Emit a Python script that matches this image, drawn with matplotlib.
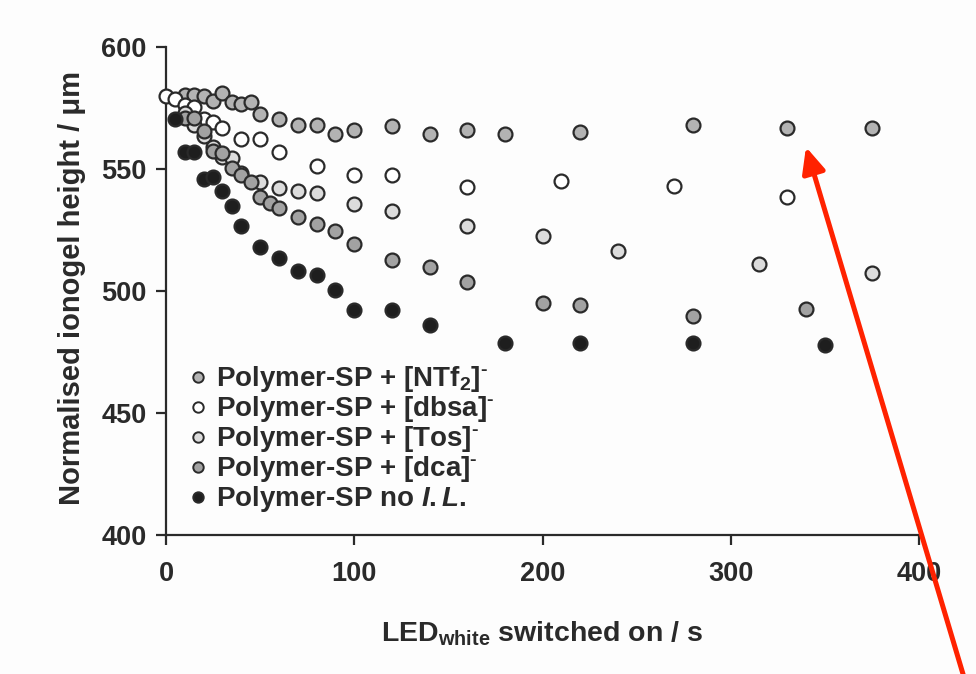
import matplotlib
matplotlib.use("Agg")
import matplotlib.pyplot as plt
from matplotlib.lines import Line2D
from matplotlib.patches import FancyArrowPatch

plt.rcParams["font.family"] = ["Liberation Sans", "DejaVu Sans"]
plt.rcParams["font.weight"] = "bold"
plt.rcParams["axes.labelweight"] = "bold"
plt.rcParams["mathtext.fontset"] = "custom"
plt.rcParams["mathtext.rm"] = "Liberation Sans:bold"
plt.rcParams["mathtext.bf"] = "Liberation Sans:bold"
plt.rcParams["mathtext.it"] = "Liberation Sans:bold:italic"
plt.rcParams["mathtext.default"] = "bf"

# data (time / s, height / um)
t_ntf2 = [10, 15, 20, 25, 30, 35, 40, 45, 50, 60, 70, 80, 90, 100, 120, 140, 160, 180, 220, 280, 330, 375]
h_ntf2 = [580.5, 580.3, 580.0, 578.0, 581.0, 577.3, 576.6, 577.3, 572.6, 570.6, 568.0, 568.0, 564.3, 565.9,
          567.5, 564.3, 566.0, 564.3, 565.0, 568.0, 567.0, 566.8]

t_dbsa = [0, 5, 10, 15, 20, 25, 30, 40, 50, 60, 80, 100, 120, 160, 210, 270, 330]
h_dbsa = [580.0, 578.8, 576.4, 575.3, 570.6, 569.3, 567.0, 562.3, 562.3, 557.0, 551.2, 547.5, 547.5,
          542.6, 545.0, 543.0, 538.5]

t_tos = [10, 15, 20, 25, 30, 35, 40, 50, 60, 70, 80, 100, 120, 160, 200, 240, 315, 375]
h_tos = [573.0, 568.0, 563.4, 559.0, 554.8, 554.5, 548.5, 544.8, 542.1, 541.1, 540.3, 535.7, 532.9,
         526.6, 522.5, 516.4, 511.0, 507.4]

t_dca = [10, 15, 20, 25, 30, 35, 40, 45, 50, 55, 60, 70, 80, 90, 100, 120, 140, 160, 200, 220, 280, 340]
h_dca = [571.0, 571.0, 565.7, 557.3, 556.6, 550.4, 547.5, 544.5, 538.5, 535.9, 533.9, 530.2, 527.5, 524.7,
         519.2, 512.7, 510.0, 503.7, 495.0, 494.3, 489.8, 492.6]

t_none = [5, 10, 15, 20, 25, 30, 35, 40, 50, 60, 70, 80, 90, 100, 120, 140, 180, 220, 280, 350]
h_none = [570.6, 557.0, 557.0, 545.8, 546.8, 541.0, 534.8, 526.5, 518.2, 513.4, 508.0, 506.4, 500.5,
          492.4, 492.4, 486.0, 478.7, 478.7, 478.7, 478.0]

labels = [r"Polymer-SP + [NTf$_2$]$^{\text{-}}$", r"Polymer-SP + [dbsa]$^{\text{-}}$",
          r"Polymer-SP + [Tos]$^{\text{-}}$", r"Polymer-SP + [dca]$^{\text{-}}$",
          r"Polymer-SP no $\mathit{I.L.}$"]
fills = ["#b3b3b3", "#ffffff", "#dcdcdc", "#a2a2a2", "#1e1e1e"]

series = [(t_ntf2, h_ntf2), (t_dbsa, h_dbsa), (t_tos, h_tos), (t_dca, h_dca), (t_none, h_none)]

ink = "#2a2a2a"
fig = plt.figure(figsize=(9.76, 6.74), dpi=100, facecolor="#fdfdfd")
ax = fig.add_axes([166 / 976, 1 - 535 / 674, (919 - 166) / 976, (535 - 47) / 674])
ax.set_facecolor("#fdfdfd")

for (t, h), fc in zip(series, fills):
    ax.plot(t, h, ls="none", marker="o", ms=10, mfc=fc, mec=ink, mew=1.6, clip_on=False, zorder=3)

ax.set_xlim(0, 400)
ax.set_ylim(400, 600)
ax.set_xticks([0, 100, 200, 300, 400])
ax.set_yticks([400, 450, 500, 550, 600])
for s in ["top", "right"]:
    ax.spines[s].set_visible(False)
for s in ["left", "bottom"]:
    ax.spines[s].set_linewidth(1.6)
    ax.spines[s].set_color(ink)
ax.tick_params(axis="both", direction="out", length=7, width=1.6, color=ink,
               labelsize=19.5, labelcolor=ink)
ax.tick_params(axis="x", pad=12)
ax.tick_params(axis="y", pad=7)

ax.set_xlabel("LED$_{white}$ switched on / s", fontsize=20.5, color=ink)
ax.set_ylabel("Normalised ionogel height / μm", fontsize=21, color=ink)
ax.xaxis.set_label_coords(0.5, -0.173)
ax.yaxis.set_label_coords(-0.106, 0.507)

handles = [Line2D([], [], ls="none", marker="o", ms=7.5, mfc=fc, mec=ink, mew=1.4) for fc in fills]
ax.legend(handles, labels, loc="center left", bbox_to_anchor=(0.028, 0.196), frameon=False,
          fontsize=20, labelcolor=ink, handlelength=0.75, handletextpad=0.3,
          labelspacing=0.0, borderpad=0, borderaxespad=0)

arrow = FancyArrowPatch((965 / 976, -0.01), (806 / 976, 1 - 147 / 674), transform=fig.transFigure,
                        arrowstyle="-|>,head_length=0.55,head_width=0.25", mutation_scale=28,
                        lw=3.6, color="#ff2200", shrinkA=0, shrinkB=0)
fig.add_artist(arrow)

fig.savefig("out.png", dpi=100, facecolor=fig.get_facecolor())
